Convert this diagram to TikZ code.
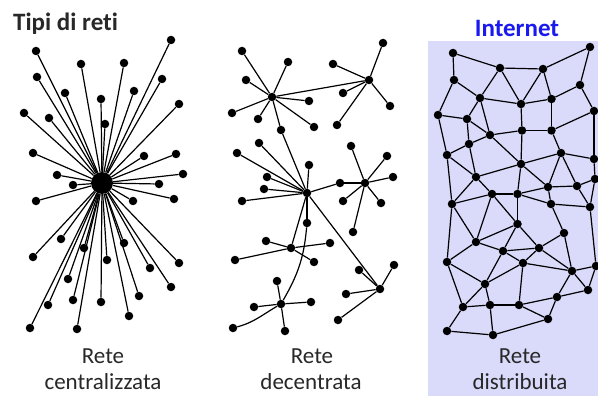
\documentclass[tikz,border=0pt]{standalone}
\usepackage{fontspec}
\setmainfont{Carlito}[Ligatures={NoCommon,NoContextual,NoRare}]
\definecolor{netbg}{RGB}{218,218,250}
\definecolor{netblue}{RGB}{25,25,240}
\definecolor{txt}{RGB}{40,40,40}
\begin{document}
\begin{tikzpicture}[x=1pt,y=-1pt,
  dot/.style={circle,fill=black,inner sep=0pt,minimum size=8.5pt},
  hubdot/.style={circle,fill=black,inner sep=0pt,minimum size=22pt},
  link/.style={line width=1.2pt},
  lbl/.style={font=\fontsize{23}{27}\selectfont,text=txt,anchor=base,inner sep=0pt},
  ttl/.style={font=\bfseries\fontsize{25}{29}\selectfont,anchor=base,inner sep=0pt}]
\fill[white] (0,0) rectangle (598,396);
\useasboundingbox (0,0) rectangle (598,396);
\fill[netbg] (428,41) rectangle (598,396);

% titles and labels
\node[ttl,anchor=base west,text=txt] (title) at (13,31) {Tipi di reti};
\node[ttl,text=netblue] (inet) at (517,37) {Internet};
\node[lbl] (lc1) at (103,363) {Rete};
\node[lbl] (lc2) at (103,389) {centralizzata};
\node[lbl] (ld1) at (312,363) {Rete};
\node[lbl] (ld2) at (311,389) {decentrata};
\node[lbl] (lx1) at (520,363) {Rete};
\node[lbl] (lx2) at (520,389) {distribuita};

% ---------- centralized ----------
\node[hubdot] (hub) at (102,183) {};
\foreach \x/\y [count=\i] in {171/40,36/51,81/64,124/63,37/77,162/79,65/93,101/99,134/91,179/104,
  24/113,49/118,105/124,33/153,144/156,176/154,57/175,183/174,73/185,159/184,
  36/201,174/199,133/201,61/239,33/257,84/248,107/260,124/243,179/263,150/268,
  68/279,171/287,139/296,73/300,48/305,101/302,129/316,30/328,77/329}{
  \node[dot] (c\i) at (\x,\y) {};
  \draw[link] (hub) -- (c\i);
}

% ---------- decentralized ----------
\node[dot] (A) at (272,97) {};
\node[dot] (B) at (369,80) {};
\node[dot] (C) at (307,193) {};
\node[dot] (D) at (365,183) {};
\node[dot] (E) at (291,248) {};
\node[dot] (F) at (281,304) {};
\node[dot] (G) at (380,289) {};
\foreach \h/\lst in {A/{242/51,288/62,246/80,232/113,258/119,309/101,314/127},
                     B/{383/43,333/64,343/93,390/106,337/125},
                     C/{259/143,237/153,309/165,267/177,264/189,242/201},
                     D/{351/146,387/156,393/177,343/201,381/203,353/232},
                     E/{266/241,235/260,330/243,314/262},
                     F/{277/281,254/307,311/302,285/331},
                     G/{394/265,359/270,346/294,338/320}}{
  \foreach \x/\y [count=\i] in \lst {
    \node[dot] (\h\i) at (\x,\y) {};
    \draw[link] (\h) -- (\h\i);
  }
}
\node[dot] (AC) at (281,130) {};
\node[dot] (CD) at (340,183) {};
\node[dot] (CN) at (307,223) {};
\node[dot] (FL) at (233,328) {};
\draw[link] (A) -- (B);
\draw[link] (A) -- (AC);
\draw[link] (AC) -- (C);
\draw[link] (C) -- (CD);
\draw[link] (CD) -- (D);
\draw[link] (C) -- (CN);
\draw[link] (C) -- (E);
\draw[link] (C) -- (G);
\draw[link] (CN) to[out=-95,in=60] (F);
\draw[link] (F) to[out=-150,in=15] (FL);

% ---------- distributed ----------
\foreach \x/\y [count=\i] in {453/53,500/68,543/69,590/47,454/80,580/85,480/98,521/104,551.5/99,594/111,
  438/115,467/119,490/135,522/130.5,551.5/130.5,469/144,447/155,561/153,594/159,521/164,
  476/177,548/187,577/186,595/179,492/194,517.5/194,452/204,551/204,590/207,517.5/224,
  564/233,476/242,503/251,539/248,447/262,523/263,572/271,596/266,485/284,588/290,
  557/297,463/307,490/305,519/305,548/319,447/331,493/335}{
  \node[dot] (d\i) at (\x,\y) {};
}
\foreach \a/\b in {1/2,1/5,2/3,3/4,4/6,6/9,6/10,2/7,2/8,3/8,3/9,5/7,5/11,7/12,7/13,7/8,8/9,8/14,9/15,
  10/15,10/19,11/12,11/17,12/13,12/16,13/14,13/16,13/20,14/15,14/20,15/18,16/17,16/21,17/21,17/27,
  18/19,18/20,18/22,18/23,19/24,20/21,20/22,21/25,21/27,
  25/26,26/22,22/23,27/25,25/32,25/30,26/30,26/20,22/28,26/28,28/29,23/29,23/24,24/29,29/38,28/31,
  27/32,27/35,30/32,30/33,30/34,31/34,31/37,32/33,32/35,33/34,33/36,33/39,34/36,34/37,35/39,35/42,
  36/37,36/44,36/39,37/38,37/40,37/41,38/40,40/41,41/44,41/45,44/45,39/42,39/43,42/43,42/46,43/47,
  43/44,46/47,47/45}{
  \draw[link] (d\a) -- (d\b);
}
\end{tikzpicture}
\end{document}
